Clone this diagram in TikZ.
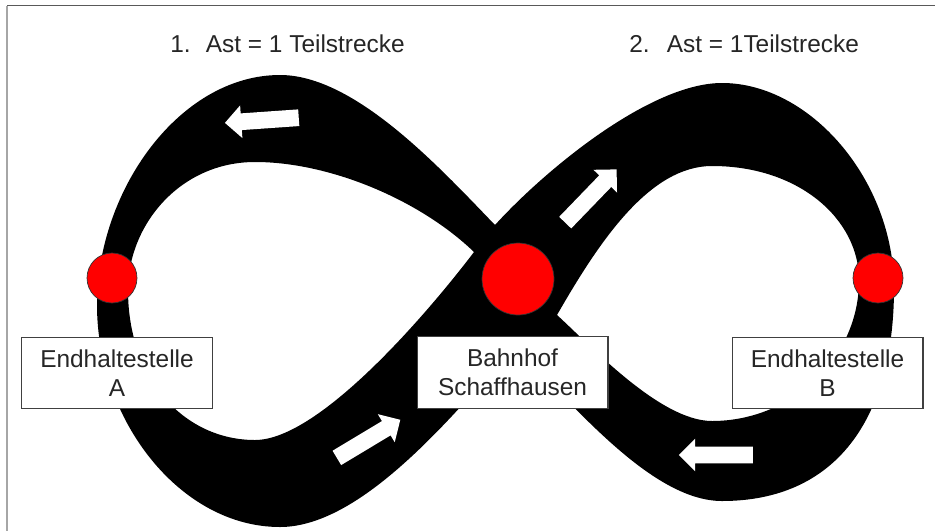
\documentclass[tikz,border=0pt]{standalone}
\usepackage{fontspec}
\setmainfont{Liberation Sans}
\usetikzlibrary{shapes.arrows}
\def\schrift{\fontsize{13.9}{16.5}\selectfont}
\tikzset{
	halt/.style={circle, fill=red, draw=black!80, line width=0.4pt, inner sep=0pt},
	schild/.style={draw=black!75, line width=0.6pt, fill=white, text=black!85, font=\schrift, minimum width=3.82cm, minimum height=1.43cm, align=center, inner sep=0pt},
	pfeil/.style={single arrow, fill=white, inner xsep=0pt, inner ysep=0.16cm, minimum height=1.48cm, single arrow head extend=0.16cm, single arrow tip angle=90},
	titel/.style={anchor=base west, inner sep=0pt, text=black!85, font=\schrift}
}

\begin{document}
\begin{tikzpicture}[x=0.02cm, y=-0.02cm]
		%%%%% START %%%%%
		\useasboundingbox[fill=white] (0,0) rectangle (935,531);
		\draw[black!65, line width=1pt] (7,5.5) -- (935,5.5);
		\draw[black!35, line width=1.1pt] (7,5.5) -- (7,531);
		
		% Strecke als Acht
		\fill[black, even odd rule]
			(495,225) .. controls (440,168) and (355,75) .. (280,75)
			.. controls (180,75) and (97,190) .. (97,305)
			.. controls (97,420) and (180,527) .. (280,527)
			.. controls (360,527) and (450,420) .. (514,346)
			.. controls (570,400) and (650,501) .. (722,501)
			.. controls (835,501) and (894,420) .. (894,288)
			.. controls (894,180) and (810,83) .. (722,83)
			.. controls (650,83) and (545,170) .. (495,225) -- cycle
			(474,252) .. controls (420,200) and (330,162) .. (255,162)
			.. controls (180,162) and (128,225) .. (128,290)
			.. controls (128,380) and (185,440) .. (255,440)
			.. controls (320,440) and (430,310) .. (474,252) -- cycle
			(557,315) .. controls (600,240) and (650,166) .. (712,166)
			.. controls (800,166) and (859,220) .. (859,280)
			.. controls (859,360) and (790,421) .. (712,421)
			.. controls (660,421) and (590,345) .. (557,315) -- cycle;
		
		\node[pfeil, rotate=184] (pfeil1) at (266,120) {};
		\node[pfeil, rotate=46] (pfeil2) at (588,199) {};
		\node[pfeil, rotate=31] (pfeil3) at (365,441) {};
		\node[pfeil, rotate=180] (pfeil4) at (720,455) {};
		
		\node[halt, minimum size=1.0cm] (haltA) at (112,278) {};
		\node[halt, minimum size=1.44cm] (bahnhof) at (518,279) {};
		\node[halt, minimum size=1.0cm] (haltB) at (878,278) {};
		
		\node[schild] (schildA) at (117,373) {Endhaltestelle\\A};
		\node[schild] (schildSH) at (512.5,372.5) {Bahnhof\\Schaffhausen};
		\node[schild] (schildB) at (827.5,373) {Endhaltestelle\\B};
		
		\node[titel] (ast1) at (170,52) {1.\hspace{0.62em}Ast = 1 Teilstrecke};
		\node[titel] (ast2) at (629,52) {2.\hspace{0.7em}Ast = 1Teilstrecke};
		%%%%% END %%%%%
	\end{tikzpicture}
\end{document}
